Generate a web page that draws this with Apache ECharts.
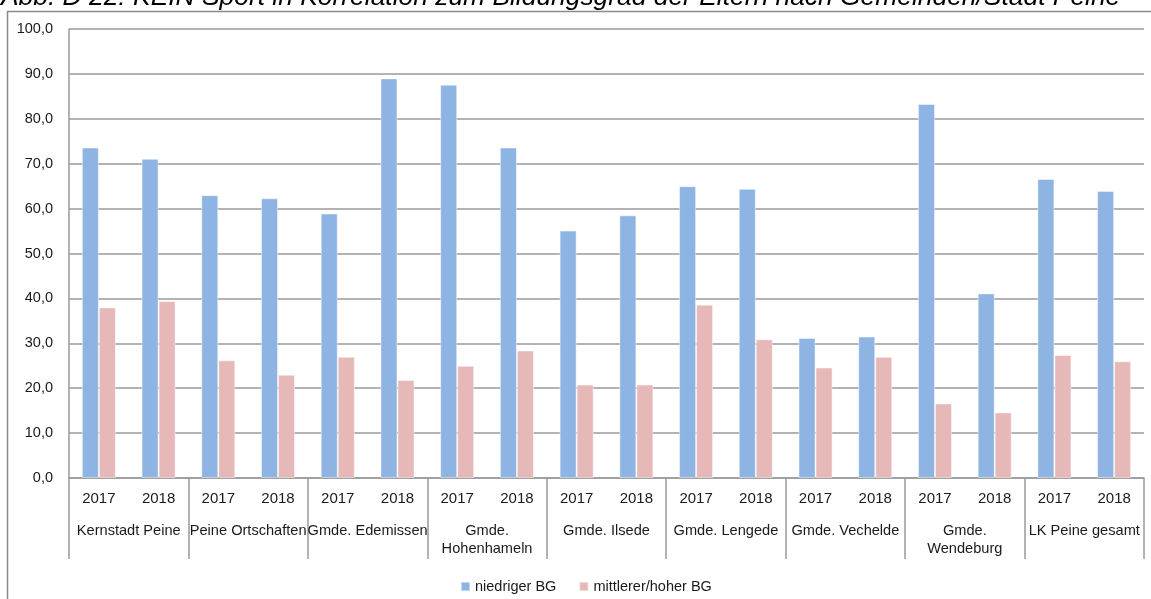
<!DOCTYPE html>
<html>
<head>
<meta charset="utf-8">
<script src="https://cdn.jsdelivr.net/npm/echarts@6/dist/echarts.min.js"></script>
<style>
  html, body { margin: 0; padding: 0; background: #fff; }
  #chart { width: 1151px; height: 599px; }
</style>
</head>
<body>
<div id="chart"></div>
<script>
// Daten
const years = ["2017", "2018", "2017", "2018", "2017", "2018", "2017", "2018", "2017",
  "2018", "2017", "2018", "2017", "2018", "2017", "2018", "2017", "2018"];
const groups = ["Kernstadt Peine", "Peine Ortschaften", "Gmde. Edemissen", "Gmde.\nHohenhameln",
  "Gmde. Ilsede", "Gmde. Lengede", "Gmde. Vechelde", "Gmde.\nWendeburg", "LK Peine gesamt"];
const niedrigerBG = [73.6, 71.1, 63.0, 62.3, 58.9, 89.0, 87.6, 73.6, 55.1,
  58.5, 65.0, 64.4, 31.2, 31.5, 83.3, 41.1, 66.6, 63.9];
const mittlererHoherBG = [38.0, 39.4, 26.2, 23.0, 27.0, 21.8, 25.0, 28.4, 20.8,
  20.8, 38.6, 30.9, 24.6, 27.0, 16.6, 14.6, 27.4, 26.0];
const yTicks = { min: 0, max: 100, interval: 10 };

const titleText = "Abb. D 22: KEIN Sport in Korrelation zum Bildungsgrad der Eltern nach Gemeinden/Stadt Peine";
const font = "Liberation Sans";
const lineGray = "#9a9a9a";
const textColor = "#1a1a1a";

let option = {
  animation: false,
  textStyle: { fontFamily: font },
  graphic: [
    {
      // Rahmen
      type: "rect",
      shape: { x: 7.5, y: 11.5, width: 1200, height: 700 },
      style: { fill: "none", stroke: "#8a8a8a", lineWidth: 1.5 },
      silent: true,
    },
    {
      // Titel, oben abgeschnitten
      type: "text",
      x: 1,
      y: -2.5,
      style: {
        text: titleText,
        fontFamily: font,
        fontSize: 26.4,
        fontStyle: "italic",
        fill: "#000",
        verticalAlign: "middle",
      },
      silent: true,
    },
  ],
  grid: {
    left: 69,
    right: 7,
    top: 29,
    bottom: 121,
    containLabel: false,
  },
  legend: {
    left: 455,
    top: 574,
    icon: "rect",
    itemWidth: 9,
    itemHeight: 9,
    itemGap: 22,
    textStyle: { fontSize: 14.5, color: textColor, fontFamily: font },
    data: ["niedriger BG", "mittlerer/hoher BG"],
  },
  xAxis: [
    {
      type: "category",
      position: "bottom",
      data: years,
      axisLine: { show: true, lineStyle: { color: lineGray, width: 1.5 } },
      axisTick: { show: false },
      axisLabel: {
        interval: 0,
        margin: 12,
        fontSize: 15,
        lineHeight: 18,
        color: textColor,
      },
      splitLine: { show: false },
    },
    {
      type: "category",
      position: "bottom",
      offset: 0,
      data: groups,
      axisLine: { show: false },
      axisTick: {
        show: true,
        interval: 0,
        length: 81,
        lineStyle: { color: lineGray, width: 1.5 },
      },
      axisLabel: {
        interval: 0,
        margin: 44,
        fontSize: 14.6,
        lineHeight: 18,
        color: textColor,
      },
      splitLine: { show: false },
    },
  ],
  yAxis: {
    type: "value",
    min: yTicks.min,
    max: yTicks.max,
    interval: yTicks.interval,
    axisLine: { show: true, lineStyle: { color: lineGray, width: 1.5 } },
    axisTick: { show: false },
    axisLabel: {
      margin: 16,
      fontSize: 14.5,
      color: textColor,
      formatter: function (v) {
        return v.toFixed(1).replace(".", ",");
      },
    },
    splitLine: { show: true, lineStyle: { color: lineGray, width: 1.5 } },
  },
  series: [
    {
      name: "niedriger BG",
      type: "bar",
      xAxisIndex: 0,
      barGap: "0%",
      barCategoryGap: "43%",
      itemStyle: {
        color: "#8eb4e3",
        borderColor: "rgba(255,255,255,0.45)",
        borderWidth: 1,
      },
      data: niedrigerBG,
    },
    {
      name: "mittlerer/hoher BG",
      type: "bar",
      xAxisIndex: 0,
      barGap: "0%",
      barCategoryGap: "43%",
      itemStyle: {
        color: "#e6b9b8",
        borderColor: "rgba(255,255,255,0.45)",
        borderWidth: 1,
      },
      data: mittlererHoherBG,
    },
  ],
};

let chart = echarts.init(document.getElementById("chart"));
chart.setOption(option);
</script>
</body>
</html>
